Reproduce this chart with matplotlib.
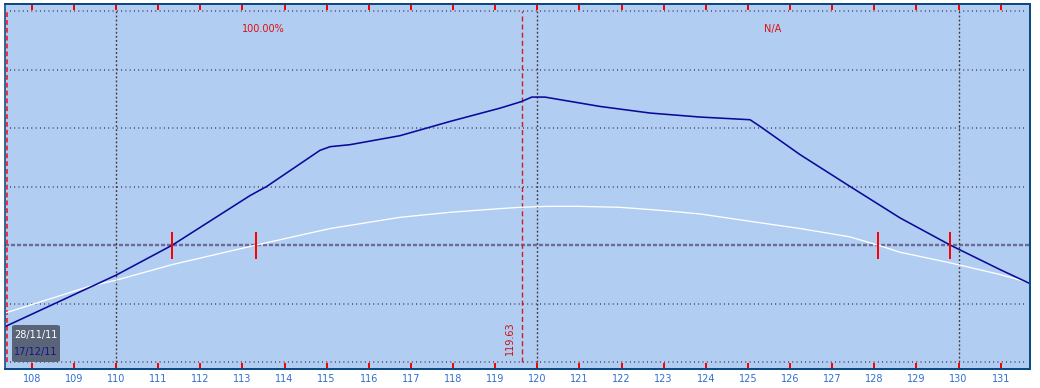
import matplotlib
matplotlib.use("Agg")
import matplotlib.pyplot as plt
from matplotlib.patches import FancyBboxPatch

# ---------------- data ----------------
blue_x = [107.39, 110.0, 111.34, 113.18, 113.58, 114.84, 115.08, 115.55, 116.74,
          117.93, 119.12, 119.61, 119.87, 120.18, 121.49, 122.68, 123.86, 125.05,
          125.29, 126.24, 127.42, 128.61, 129.80, 130.98, 131.69]
blue_y = [-1.386, -0.515, 0.0, 0.845, 1.003, 1.618, 1.681, 1.715, 1.869,
          2.113, 2.341, 2.449, 2.529, 2.529, 2.369, 2.256, 2.188, 2.142,
          2.027, 1.544, 1.003, 0.464, 0.0, -0.418, -0.657]

white_x = [107.39, 109.38, 110.0, 111.34, 113.33, 115.08, 116.74, 117.93, 119.12,
           119.59, 120.25, 120.97, 121.96, 122.91, 123.86, 125.05, 126.24, 127.42,
           128.08, 128.61, 129.80, 130.98, 131.69]
white_y = [-1.157, -0.703, -0.601, -0.333, 0.0, 0.282, 0.474, 0.560, 0.623,
           0.645, 0.662, 0.662, 0.645, 0.594, 0.532, 0.406, 0.282, 0.140,
           0.0, -0.123, -0.304, -0.503, -0.645]

x_ticks = list(range(108, 132))
x_grid = [110, 120, 130]
y_grid = [-2, -1, 1, 2, 3, 4]
breakevens = [111.34, 113.33, 128.08, 129.80]
current_price = 119.63
today_x = 107.41
region_labels = ["100.00%", "N/A"]
region_label_x = [113.49, 125.59]
legend_dates = ["28/11/11", "17/12/11"]

# ---------------- figure ----------------
W, H = 1040, 388
fig = plt.figure(figsize=(W / 100, H / 100), dpi=100)
fig.patch.set_facecolor("white")
ax = fig.add_axes([5 / W, 1 - 368.5 / H, (1030 - 5) / W, (368.5 - 4) / H])
ax.set_facecolor("#b2cdf2")
ax.set_xlim(107.365, 131.695)
ax.set_ylim(-2.11, 4.12)

px = 0.72  # points per pixel

# horizontal dotted grid (1px dots every ~4.3px)
for gy in y_grid:
    ax.axhline(gy, xmin=0.005, xmax=0.997, color="#3a2f52", lw=1.5 * px,
               linestyle=(0, (0.6, 2.25)), zorder=1)
# zero line
ax.axhline(0, color="#6c6c98", lw=2.4 * px, linestyle=(0, (1.7, 0.8)),
           zorder=1)
# vertical dotted grid
for gx in x_grid:
    ax.vlines(gx, -2, 4, color="#4a3528", lw=1.4 * px,
              linestyle=(0, (1.3, 1.6)), zorder=1)

# today line and current price line
ax.vlines(today_x, -2, 4, color="#ff1010", lw=1.6 * px,
          linestyle=(0, (3.0, 1.9)), zorder=2)
ax.vlines(current_price, -2, 4, color="#cc2020", lw=1.4 * px,
          linestyle=(0, (3.6, 2.2)), zorder=2)
ax.text(current_price - 0.28, -1.6, f"{current_price:.2f}", rotation=90,
        color="#d01010", fontsize=7, ha="center", va="center", zorder=3)

# curves
ax.plot(white_x, white_y, color="white", lw=1.3 * px, zorder=3)
ax.plot(blue_x, blue_y, color="#0a0a9a", lw=1.6 * px, zorder=4)

# breakeven markers
ax.vlines(breakevens, -0.23, 0.23, color="#ff0000", lw=1.6 * px,
          antialiased=False, zorder=5)

# region labels
for lab, lx in zip(region_labels, region_label_x):
    ax.text(lx, 3.695, lab, color="#e01010", fontsize=7, ha="center",
            va="center", zorder=5)

# ticks
ax.set_xticks(x_ticks)
ax.set_xticklabels([str(t) for t in x_ticks])
ax.set_yticks([])
ax.tick_params(axis="x", direction="in", length=6 * px, width=2 * px,
               color="#ff0000", top=True, bottom=True, labelsize=7,
               labelcolor="#2f6fcf", pad=4)
for name, sp in ax.spines.items():
    sp.set_color("#0b4a82")
    sp.set_linewidth(2 * px if name in ("top", "bottom", "right") else 1.6 * px)
    sp.set_zorder(6)

# legend box
box = FancyBboxPatch((12 / W, 1 - 362 / H), (60 - 12) / W, (362 - 325) / H,
                     boxstyle="round,pad=0,rounding_size=0.004",
                     transform=fig.transFigure, facecolor="#5a6478",
                     edgecolor="none", zorder=10)
fig.patches.append(box)
fig.text(36 / W, 1 - 335 / H, legend_dates[0], color="white", fontsize=7,
         ha="center", va="center", zorder=11)
fig.text(36 / W, 1 - 352.5 / H, legend_dates[1], color="#14148c", fontsize=7,
         ha="center", va="center", zorder=11)

fig.savefig("out.png", dpi=100, facecolor=fig.get_facecolor())
